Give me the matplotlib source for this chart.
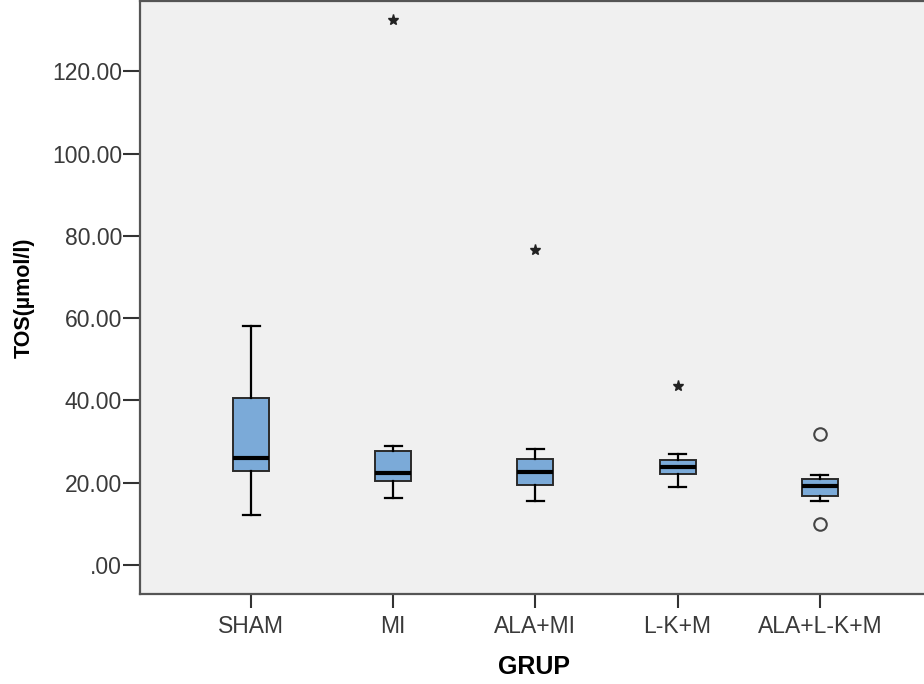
import matplotlib
matplotlib.use("Agg")
import matplotlib.pyplot as plt

plt.rcParams["font.family"] = ["Liberation Sans", "DejaVu Sans"]

# ---------------------- data ----------------------
groups = ["SHAM", "MI", "ALA+MI", "L-K+M", "ALA+L-K+M"]
whis_lo = [12.1, 16.2, 15.6, 18.9, 15.6]
q1 = [22.8, 20.4, 19.5, 22.1, 16.8]
median = [26.0, 22.4, 22.6, 23.8, 19.2]
q3 = [40.6, 27.6, 25.8, 25.5, 20.9]
whis_hi = [58.0, 29.0, 28.1, 27.0, 21.8]
# extreme values (star) and outliers (circle), per group
extremes = [[], [132.5], [76.5], [43.6], []]
outliers = [[], [], [], [], [31.9, 9.9]]
yticks = [0, 20, 40, 60, 80, 100, 120]
ytick_labels = [".00", "20.00", "40.00", "60.00", "80.00", "100.00", "120.00"]

# ---------------------- plot ----------------------
fig = plt.figure(figsize=(9.24, 6.84), dpi=100)
ax = fig.add_axes([140 / 924, 90 / 684, 788 / 924, 593 / 684])
ax.set_facecolor("#F0F0F0")

stats = []
for i, g in enumerate(groups):
    stats.append(dict(label=g, whislo=whis_lo[i], q1=q1[i], med=median[i],
                      q3=q3[i], whishi=whis_hi[i], fliers=[]))

pos = list(range(1, len(groups) + 1))
ax.bxp(stats, positions=pos, widths=0.253, capwidths=0.12, showfliers=False,
       patch_artist=True,
       boxprops=dict(facecolor="#7BAAD8", edgecolor="#2a2a2a", linewidth=1.4),
       medianprops=dict(color="black", linewidth=3),
       whiskerprops=dict(color="black", linewidth=1.6),
       capprops=dict(color="black", linewidth=1.6))

for i, p in enumerate(pos):
    if extremes[i]:
        ax.plot([p] * len(extremes[i]), extremes[i], linestyle="none",
                marker="*", markersize=8, color="#222222")
    if outliers[i]:
        ax.plot([p] * len(outliers[i]), outliers[i], linestyle="none",
                marker="o", markersize=9, markerfacecolor="none",
                markeredgecolor="#444444", markeredgewidth=1.5)

ax.set_xlim(0.219, 5.761)
ax.set_ylim(-7.05, 137.1)
ax.set_yticks(yticks)
ax.set_yticklabels(ytick_labels)
ax.set_xticks(pos)
ax.set_xticklabels(groups)

ax.tick_params(axis="y", length=12, width=1.5, color="#333333", pad=1,
               labelsize=16.5, labelcolor="#3a3a3a")
ax.tick_params(axis="x", length=10, width=1.5, color="#333333", pad=5,
               labelsize=16.5, labelcolor="#3a3a3a")

for s in ["left", "bottom", "top"]:
    ax.spines[s].set_color("#555555")
    ax.spines[s].set_linewidth(1.6)
ax.spines["right"].set_visible(False)

ax.set_xlabel("GRUP", fontsize=18, fontweight="bold", labelpad=12)
ax.set_ylabel("TOS(µmol/l)", fontsize=15.5, fontweight="bold", labelpad=12)

fig.savefig("out.png", dpi=100, facecolor="white")
